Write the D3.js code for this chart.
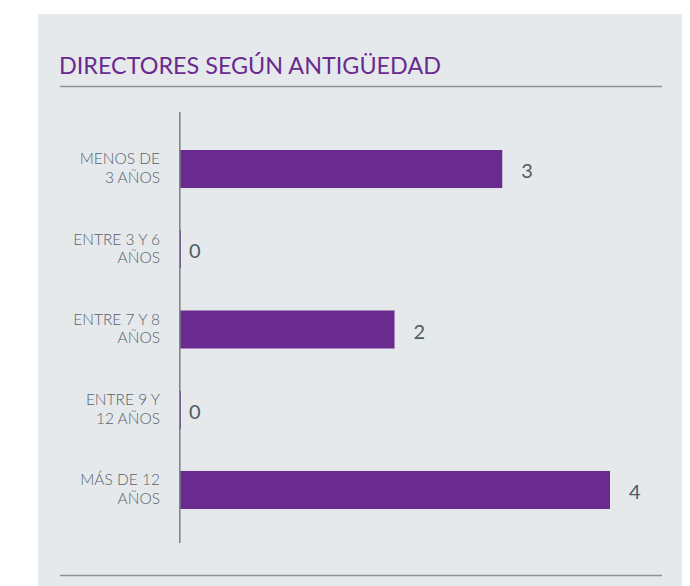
<!DOCTYPE html>
<html>
<head>
<meta charset="utf-8">
<script src="https://cdn.jsdelivr.net/npm/d3@7"></script>
<style>
  html, body { margin: 0; padding: 0; background: #fff; }
  svg { display: block; }
</style>
</head>
<body>
<svg id="chart" width="690" height="586"></svg>
<script>
const title = "DIRECTORES SEGÚN ANTIGÜEDAD";
const categories = [
  ["MENOS DE", "3 AÑOS"],
  ["ENTRE 3 Y 6", "AÑOS"],
  ["ENTRE 7 Y 8", "AÑOS"],
  ["ENTRE 9 Y", "12 AÑOS"],
  ["MÁS DE 12", "AÑOS"]
];
const values = [3, 0, 2, 0, 4];

const width = 690, height = 586;
const purple = "#6a2b8f";
const textGray = "#55616a";

const svg = d3.select("#chart");

// panel
svg.append("rect")
  .attr("x", 38).attr("y", 14)
  .attr("width", 644).attr("height", height - 14)
  .attr("fill", "#e6e9ec");

svg.append("text")
  .attr("x", 59).attr("y", 74)
  .attr("fill", purple)
  .attr("font-family", "Lato, sans-serif")
  .attr("font-weight", 400)
  .attr("font-size", 24)
  .attr("textLength", 382)
  .attr("lengthAdjust", "spacingAndGlyphs")
  .text(title);

svg.append("line")
  .attr("x1", 60).attr("x2", 662)
  .attr("y1", 86.5).attr("y2", 86.5)
  .attr("stroke", "#8b9297").attr("stroke-width", 1.5);

svg.append("line")
  .attr("x1", 60).attr("x2", 662)
  .attr("y1", 575.5).attr("y2", 575.5)
  .attr("stroke", "#8b9297").attr("stroke-width", 1.5);

const x = d3.scaleLinear().domain([0, 4]).range([179, 610]);
const y = d3.scaleBand()
  .domain(d3.range(categories.length))
  .range([150, 509])
  .paddingInner(0.526)
  .paddingOuter(0);

const g = svg.append("g");

g.selectAll("rect.bar")
  .data(values)
  .enter().append("rect")
  .attr("class", "bar")
  .attr("x", x(0))
  .attr("y", (d, i) => y(i))
  .attr("width", d => Math.max(x(d) - x(0), 2))
  .attr("height", y.bandwidth())
  .attr("fill", purple);

// axis line
g.append("line")
  .attr("x1", 179.8).attr("x2", 179.8)
  .attr("y1", 112).attr("y2", 543)
  .attr("stroke", "#7f878c").attr("stroke-width", 1.6);

g.selectAll("text.val")
  .data(values)
  .enter().append("text")
  .attr("class", "val")
  .attr("x", d => x(d) + (d > 0 ? 19 : 10))
  .attr("y", (d, i) => y(i) + y.bandwidth() / 2)
  .attr("dy", "0.45em")
  .attr("fill", "#4f5b63")
  .attr("font-family", "Lato, sans-serif")
  .attr("font-size", 20)
  .text(d => d);

const lab = g.selectAll("text.cat")
  .data(categories)
  .enter().append("text")
  .attr("class", "cat")
  .attr("text-anchor", "end")
  .attr("fill", textGray)
  .attr("font-family", "Lato, sans-serif")
  .attr("font-weight", 300)
  .attr("font-size", 15.5)
  .attr("y", (d, i) => y(i) + y.bandwidth() / 2);

lab.selectAll("tspan")
  .data(d => d)
  .enter().append("tspan")
  .attr("x", 160)
  .attr("dy", (d, i) => i === 0 ? "-0.3em" : "1.2em")
  .text(d => d);
</script>
</body>
</html>
